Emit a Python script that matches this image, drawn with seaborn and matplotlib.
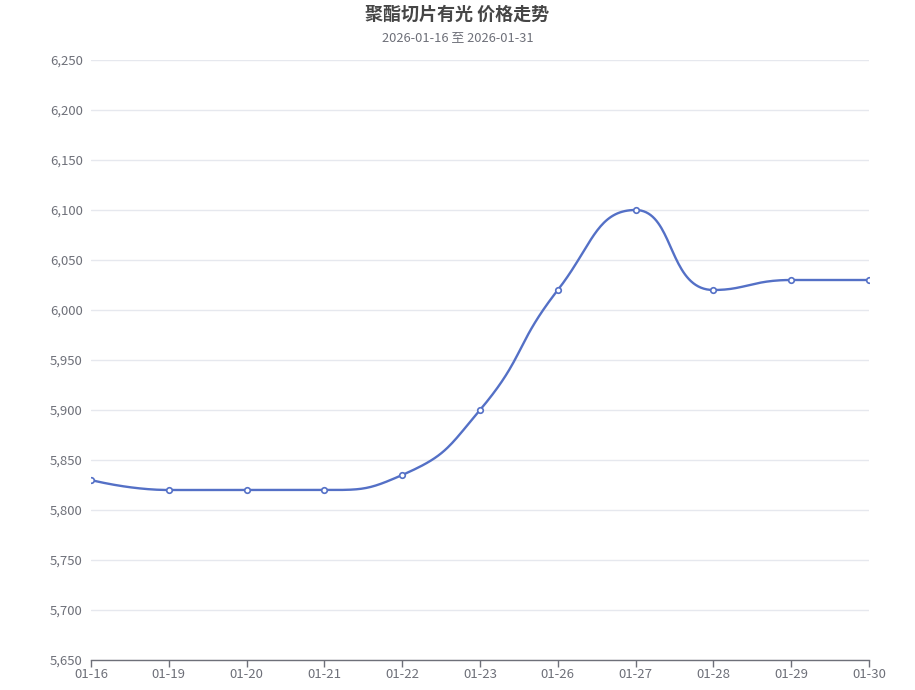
import numpy as np
import pandas as pd
import matplotlib
matplotlib.use("Agg")
import matplotlib.pyplot as plt
import seaborn as sns
from matplotlib.ticker import FuncFormatter, FixedLocator

dates = ["01-16", "01-19", "01-20", "01-21", "01-22", "01-23", "01-26", "01-27", "01-28", "01-29", "01-30"]
prices = [5830, 5820, 5820, 5820, 5835, 5900, 6020, 6100, 6020, 6030, 6030]
title = "聚酯切片有光 价格走势"
subtitle = "2026-01-16 至 2026-01-31"
y_ticks = list(range(5650, 6251, 50))

sns.set_theme(style="white")
plt.rcParams['font.family'] = ['Noto Sans CJK SC', 'DejaVu Sans']

W, H = 915, 690
fig = plt.figure(figsize=(W / 100, H / 100), dpi=100)
left, right, top, bottom = 91, 869, 60, 660
ax = fig.add_axes([left / W, 1 - bottom / H, (right - left) / W, (bottom - top) / H])

# ECharts-style smooth bezier, computed in pixel space
n = len(prices)
xs_px = np.array([left + i * (right - left) / (n - 1) for i in range(n)])
ys_px = np.array([bottom - (p - 5650) * (bottom - top) / 600 for p in prices])
smooth = 0.5

def clamp(v, a, b):
    return max(min(v, max(a, b)), min(a, b))

segs_x, segs_y = [], []
cpx0, cpy0 = xs_px[0], ys_px[0]
for i in range(1, n):
    x, y = xs_px[i], ys_px[i]
    px, py = xs_px[i - 1], ys_px[i - 1]
    if i < n - 1:
        nx, ny = xs_px[i + 1], ys_px[i + 1]
        vx, vy = nx - px, ny - py
        dx0, dy0, dx1, dy1 = x - px, y - py, nx - x, ny - y
        lp = np.hypot(dx0, dy0)
        ln = np.hypot(dx1, dy1)
        r = ln / (ln + lp)
        cpx1 = clamp(x + vx * smooth * r, nx, x)
        cpy1 = clamp(y + vy * smooth * r, ny, y)
        vx, vy = cpx1 - x, cpy1 - y
        ncx = clamp(x - vx * lp / ln, px, x)
        ncy = clamp(y - vy * lp / ln, py, y)
        vx, vy = x - ncx, y - ncy
        cpx1 = x + vx * ln / lp
        cpy1 = y + vy * ln / lp
    else:
        ncx, ncy = x, y
        cpx1, cpy1 = x, y
    t = np.linspace(0, 1, 40)
    bx = (1 - t) ** 3 * px + 3 * (1 - t) ** 2 * t * cpx0 + 3 * (1 - t) * t ** 2 * ncx + t ** 3 * x
    by = (1 - t) ** 3 * py + 3 * (1 - t) ** 2 * t * cpy0 + 3 * (1 - t) * t ** 2 * ncy + t ** 3 * y
    segs_x.append(bx)
    segs_y.append(by)
    cpx0, cpy0 = cpx1, cpy1

cx = np.concatenate(segs_x)
cy = np.concatenate(segs_y)
curve_x = (cx - left) / ((right - left) / (n - 1))
curve_y = 5650 + (bottom - cy) * 600 / (bottom - top)

curve = pd.DataFrame({"x": curve_x, "y": curve_y})
pts = pd.DataFrame({"x": np.arange(n), "y": prices})

color = "#5470c6"
sns.lineplot(data=curve, x="x", y="y", ax=ax, color=color, linewidth=1.7, sort=False, estimator=None, zorder=3)
sns.scatterplot(data=pts, x="x", y="y", ax=ax, s=16, facecolor="white", edgecolor=color, linewidth=1.2, zorder=4)

ax.set_xlim(0, n - 1)
ax.set_ylim(5650, 6250)
ax.yaxis.set_major_locator(FixedLocator(y_ticks))
ax.yaxis.set_major_formatter(FuncFormatter(lambda v, p: f"{int(v):,}"))
ax.set_xticks(range(n))
ax.set_xticklabels(dates)
ax.grid(axis="y", color="#e6e8ee", linewidth=1)
ax.set_axisbelow(True)
for s in ["top", "right", "left"]:
    ax.spines[s].set_visible(False)
ax.spines["bottom"].set_color("#6e7079")
ax.spines["bottom"].set_linewidth(1)
ax.tick_params(axis="x", which="major", length=5, width=1, color="#6e7079", labelcolor="#6e7079", labelsize=9.5, pad=1, bottom=True)
ax.tick_params(axis="y", length=0, labelcolor="#6e7079", labelsize=9.5, pad=6)
ax.set_xlabel("")
ax.set_ylabel("")

fig.text(0.5, 1 - 14 / H, title, ha="center", va="center", fontsize=13, fontweight="bold", color="#464646")
fig.text(0.5, 1 - 38 / H, subtitle, ha="center", va="center", fontsize=9.3, color="#6e7079")

fig.savefig("out.png", dpi=100)
